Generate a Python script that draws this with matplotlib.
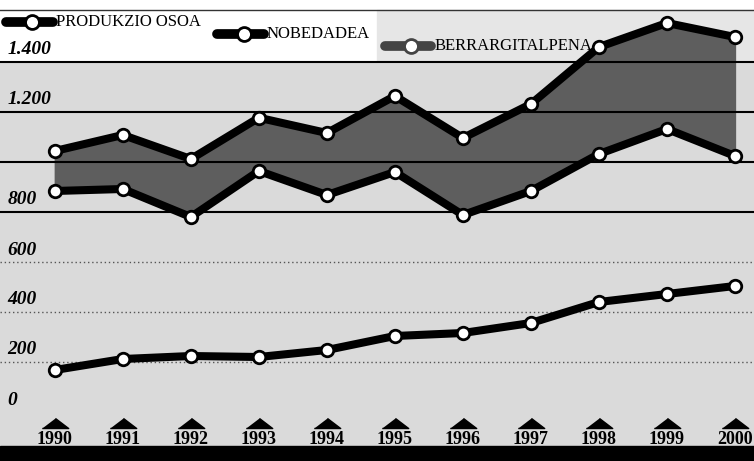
import matplotlib
matplotlib.use('Agg')
import matplotlib.pyplot as plt
from matplotlib.transforms import blended_transform_factory

# datuak (grafikotik irakurrita)
years = [1990, 1991, 1992, 1993, 1994, 1995, 1996, 1997, 1998, 1999, 2000]
produkzio = [1044, 1108, 1012, 1177, 1116, 1264, 1096, 1232, 1460, 1556, 1500]
nobedadea = [884, 892, 780, 964, 868, 960, 788, 884, 1032, 1132, 1024]
berrargitalpena = [168, 212, 224, 220, 248, 304, 316, 356, 440, 472, 504]

grid_solid = [800, 1000, 1200, 1400]
grid_dotted = [200, 400, 600]
ytick_vals = [0, 200, 400, 600, 800, 1200, 1400]
ytick_labels = ['0', '200', '400', '600', '800', '1.200', '1.400']
legend_labels = ['PRODUKZIO OSOA', 'NOBEDADEA', 'BERRARGITALPENA']

fig = plt.figure(figsize=(7.54, 4.61), dpi=100)
ax = fig.add_axes([0, 0, 1, 1])
ax.set_xlim(1989.194, 2000.28)
ax.set_ylim(-196, 1648)
ax.axis('off')

# atzeko planoa
ax.axhspan(-196, 1400, color='#dadada', zorder=0)
ax.axhspan(1400, 1608, xmin=0.5, xmax=1, color='#e6e6e6', zorder=0)
ax.axhspan(-196, -136, color='black', zorder=1)
ax.axhline(1608, color='#333333', lw=1, zorder=1)

# sareta
for g in grid_solid:
    ax.axhline(g, color='black', lw=1.5, zorder=3)
for g in grid_dotted:
    ax.axhline(g, color='#555555', lw=1, ls=(0, (1, 2)), zorder=3)

# produkzioa eta nobedadeen arteko eremua
ax.fill_between(years, nobedadea, produkzio, color='#5e5e5e', zorder=2)

for serie in [produkzio, nobedadea, berrargitalpena]:
    ax.plot(years, serie, color='black', lw=5.8, zorder=4,
            solid_joinstyle='round', solid_capstyle='round')
    ax.plot(years, serie, 'o', ms=9, mfc='white', mec='black', mew=2, zorder=5)

# y ardatzeko etiketak
tr = blended_transform_factory(ax.transAxes, ax.transData)
for v, lab in zip(ytick_vals, ytick_labels):
    ax.text(0.01, v + 14, lab, transform=tr, ha='left', va='bottom',
            family='Liberation Serif', style='italic', weight='bold',
            fontsize=14, zorder=6)

# urteak eta triangeluak
tri = [(-1, -0.38), (1, -0.38), (0, 0.38)]
ax.plot(years, [-44] * len(years), ls='none', marker=tri, ms=19,
        color='black', zorder=6)
for y in years:
    ax.text(y, -110, str(y), ha='center', va='center',
            family='Liberation Serif', weight='bold', fontsize=13, zorder=6)

# legenda
leg_pos = [(0.008, 1560), (0.288, 1512), (0.51, 1464)]
leg_col = ['black', 'black', '#444444']
for (lx, ly), lab, c in zip(leg_pos, legend_labels, leg_col):
    ax.plot([lx, lx + 0.062], [ly, ly], color=c, lw=7, transform=tr,
            solid_capstyle='round', zorder=6)
    ax.plot([lx + 0.035], [ly], 'o', ms=10, mfc='white', mec=c, mew=2,
            transform=tr, zorder=7)
    ax.text(lx + 0.066, ly, lab, transform=tr, ha='left', va='center',
            family='Liberation Serif', fontsize=12, zorder=7)

fig.savefig('out.png', dpi=100)
